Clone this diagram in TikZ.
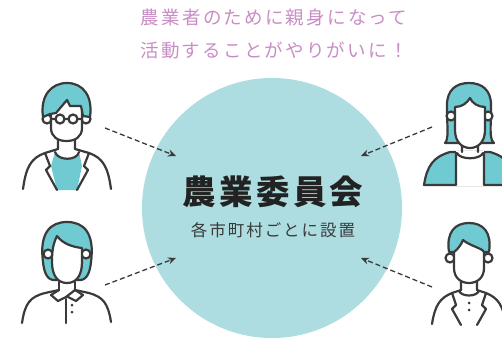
\documentclass[tikz,border=0pt]{standalone}
\usepackage{fontspec}
\newfontfamily\jpfont{Noto Sans CJK JP}
\usetikzlibrary{arrows.meta}

\definecolor{circ}{HTML}{ADDDE1}
\definecolor{hair}{HTML}{6FCAD2}
\definecolor{ink}{HTML}{3A3A3A}
\definecolor{leadpink}{HTML}{C98DC5}
\definecolor{titleink}{HTML}{222222}

\begin{document}
\begin{tikzpicture}[
    x=1pt, y=-1pt,
    outline/.style={draw=ink, line width=2.2pt, line join=round, line cap=round},
    hairfill/.style={outline, fill=hair},
    skin/.style={outline, fill=white},
    flow/.style={draw=ink, line width=1.3pt, dash pattern=on 5pt off 3pt,
                 -{Stealth[length=8pt, width=7pt]}},
    lead/.style={inner sep=0pt, text=leadpink,
                 font=\fontsize{18.5}{22}\jpfont\addfontfeature{LetterSpace=12}},
    title/.style={inner sep=0pt, text=titleink,
                  font=\fontsize{33.5}{38}\jpfont\bfseries\addfontfeature{LetterSpace=10}},
    sub/.style={inner sep=0pt, text=ink,
                font=\fontsize{16.5}{20}\jpfont\addfontfeature{LetterSpace=12}}
]
\useasboundingbox (0,0) rectangle (502,339);

% --- Kreis in der Mitte ---
\node[circle, fill=circ, minimum size=260pt, inner sep=0pt] (iinkai) at (272,208) {};
\node[title] (name) at (273,192) {農業委員会};
\node[sub] (note) at (273,230) {各市町村ごとに設置};

% --- Text oben ---
\node[lead] (lead1) at (274,17) {農業者のために親身になって};
\node[lead] (lead2) at (274,50) {活動することがやりがいに！};

% --- Pfeile ---
\coordinate (m1) at (105,128); \coordinate (t1) at (176,156);
\coordinate (m2) at (105,285); \coordinate (t2) at (176,258);
\coordinate (m3) at (432,127); \coordinate (t3) at (361,156);
\coordinate (m4) at (432,287); \coordinate (t4) at (361,258);
\foreach \a/\b in {m1/t1, m2/t2, m3/t3, m4/t4}
    \draw[flow] (\a) -- (\b);

% --- Mann mit Brille (oben links) ---
\draw[skin] (47,119) circle (4.5);
\draw[skin] (86,119) circle (4.5);
\draw[skin] (51,110) -- (51,128) .. controls (51,137) and (58,141) .. (66.5,141)
    .. controls (75,141) and (82,137) .. (82,128) -- (82,110);
\draw[hairfill] (43,117) .. controls (40,96) and (51,83) .. (67,83)
    .. controls (83,83) and (93,96) .. (90,117) -- (83,116) -- (81,106)
    -- (70,106) -- (67,100) -- (56,113) -- (50,114) -- cycle;
\draw[outline] (60,119) circle (4.5) (73,119) circle (4.5)
    (64.5,119) -- (68.5,119) (55.5,119) -- (51,119) (77.5,119) -- (82,119);
\fill[hair] (55,152) .. controls (58,161) and (77,161) .. (79,152)
    -- (82,166) -- (77,190) -- (57,190) -- (51,166) -- cycle;
\draw[outline] (58,140) -- (58,149) (75,140) -- (75,149)
    (55,152) .. controls (58,161) and (77,161) .. (79,152);
\draw[outline] (23,189) .. controls (26,167) and (31,158) .. (45,153) -- (58,149);
\draw[outline] (111,189) .. controls (108,167) and (103,158) .. (89,153) -- (75,149);
\draw[outline] (45,153) -- (50,166) -- (46,170) -- (57,190);
\draw[outline] (89,153) -- (84,166) -- (88,170) -- (77,190);

% --- Frau mit Bob (unten links) ---
\draw[hairfill] (43,262) .. controls (39,232) and (51,222) .. (67,222)
    .. controls (83,222) and (95,232) .. (91,262)
    .. controls (90,272) and (87,280) .. (80,280) -- (54,280)
    .. controls (47,280) and (44,272) .. (43,262) -- cycle;
\draw[skin] (48,254) circle (4.5);
\draw[skin] (86,254) circle (4.5);
\draw[skin] (57,236) .. controls (53,244) and (52,251) .. (52,262)
    .. controls (52,276) and (58,283) .. (67,283)
    .. controls (76,283) and (82,276) .. (82,262) -- (82,248)
    .. controls (73,247) and (63,244) .. (57,236);
\draw[outline] (59,282) -- (59,290) (75,282) -- (75,290);
\draw[outline] (22,323) .. controls (25,303) and (30,297) .. (45,293) -- (59,290);
\draw[outline] (111,322) .. controls (108,303) and (103,297) .. (89,293) -- (75,290);
\draw[outline] (59,290) -- (51,295) -- (58,301) -- (66,297) -- (75,290)
    (75,290) -- (83,295) -- (76,301) -- (68,297);
\draw[outline] (66,299) -- (66,323);
\fill[ink] (72,305) circle (1.5) (72,312) circle (1.5);

% --- Frau mit halblangem Haar (oben rechts) ---
\draw[hairfill] (445,143) .. controls (449,139) and (447,128) .. (447,105)
    .. controls (447,90) and (456,83) .. (469,83)
    .. controls (482,83) and (491,90) .. (491,105)
    .. controls (491,128) and (489,139) .. (494,143) -- cycle;
\draw[skin] (451,116) circle (4.5);
\draw[skin] (488,116) circle (4.5);
\draw[skin] (455,107) -- (455,130) .. controls (455,142) and (462,148) .. (470,148)
    .. controls (478,148) and (485,142) .. (485,130) -- (485,107)
    .. controls (478,107) and (472,103) .. (470,98)
    .. controls (467,103) and (462,107) .. (455,107) -- cycle;
\draw[hairfill] (424,185) .. controls (427,166) and (433,157) .. (450,152) -- (490,152)
    .. controls (507,157) and (513,166) .. (516,185) -- cycle;
\fill[white] (456,151) rectangle (484,186);
\draw[outline] (456,153) -- (456,185) (484,153) -- (484,185)
    (462,146) -- (462,152) (478,146) -- (478,152)
    (457,153) .. controls (460,160) and (480,160) .. (483,153);

% --- Mann (unten rechts) ---
\draw[skin] (450,258) circle (4.5);
\draw[skin] (488,258) circle (4.5);
\draw[skin] (454,248) -- (454,268) .. controls (454,278) and (461,283) .. (469,283)
    .. controls (477,283) and (484,278) .. (484,268) -- (484,248);
\draw[hairfill] (449,252) .. controls (446,232) and (455,223) .. (469,223)
    .. controls (483,223) and (492,232) .. (489,252) -- (484,252)
    .. controls (482,248) and (470,246) .. (463,240)
    .. controls (461,245) and (458,249) .. (454,252) -- cycle;
\draw[outline] (461,281) -- (461,290) (477,281) -- (477,290)
    (459,291) .. controls (462,297) and (476,297) .. (479,291);
\draw[outline] (432,324) .. controls (435,305) and (440,298) .. (452,293) -- (461,290);
\draw[outline] (506,324) .. controls (503,305) and (498,298) .. (486,293) -- (477,290);
\draw[outline] (452,293) -- (456,305) -- (452,309) -- (461,325);
\draw[outline] (486,293) -- (482,305) -- (486,309) -- (477,325);
\fill[ink] (469,303) circle (1.5) (469,310) circle (1.5);
\end{tikzpicture}
\end{document}
